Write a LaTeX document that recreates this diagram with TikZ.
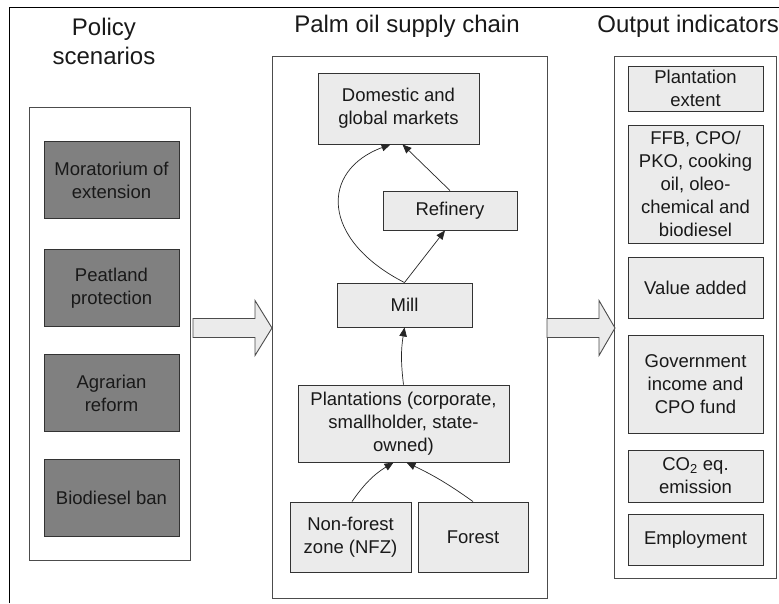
\documentclass[tikz,border=0pt]{standalone}
\usepackage{fontspec}
\setmainfont{Liberation Sans}
\usetikzlibrary{arrows.meta,calc}
\begin{document}
\begin{tikzpicture}[x=1pt,y=-1pt,
  every node/.style={inner sep=0pt, align=center, text=black!90},
  boxtext/.style={font=\fontsize{18.5}{23}\selectfont},
  darkbox/.style={boxtext, draw=black!80, line width=0.9pt, fill=black!50, minimum width=135pt, minimum height=77pt},
  lightbox/.style={boxtext, draw=black!80, line width=0.9pt, fill=black!8},
  container/.style={draw=black!70, line width=1pt},
  title/.style={font=\fontsize{24}{29.5}\selectfont},
  conn/.style={-{Triangle[length=9pt,width=7.5pt]}, line width=0.7pt, draw=black!85},
  blockarrow/.style={draw=black!70, line width=0.9pt, fill=black!8, line join=miter}
]
\useasboundingbox (0,0) rectangle (779,603);
\draw[line width=0.9pt] (9.5,603) -- (9.5,7) -- (779,7);

% titles
\node[title, anchor=north] (t1) at (104,17.8) {Policy\\scenarios};
\node[title, anchor=base] (t2) at (407,32) {Palm oil supply chain};
\node[title, anchor=base east] (t3) at (779,32) {Output indicators};

% containers
\node[container, minimum width=161pt, minimum height=453pt] (leftc) at (109.5,333.5) {};
\node[container, minimum width=275pt, minimum height=542pt] (midc) at (409.5,327) {};
\node[container, minimum width=162pt, minimum height=522pt] (rightc) at (695,317) {};

% policy scenarios
\node[darkbox] (p1) at (111.5,180) {Moratorium of\\extension};
\node[darkbox] (p2) at (111.5,288) {Peatland\\protection};
\node[darkbox] (p3) at (111.5,393) {Agrarian\\reform};
\node[darkbox] (p4) at (111.5,498) {Biodiesel ban};

% supply chain
\node[lightbox, minimum width=161pt, minimum height=71pt] (dom) at (398.5,108.5) {Domestic and\\global markets};
\node[lightbox, minimum width=134pt, minimum height=39pt] (ref) at (450,210.5) {Refinery};
\node[lightbox, minimum width=135pt, minimum height=44pt] (mill) at (404.5,305) {Mill};
\node[lightbox, minimum width=211pt, minimum height=77pt] (plant) at (403.5,423.5) {Plantations (corporate,\\smallholder, state-\\owned)};
\node[lightbox, minimum width=121pt, minimum height=70pt] (nfz) at (350.5,537) {Non-forest\\zone (NFZ)};
\node[lightbox, minimum width=110pt, minimum height=70pt] (forest) at (473,537) {Forest};

% output indicators
\node[lightbox, minimum width=135pt, minimum height=45pt] (o1) at (695.5,88.5) {Plantation\\extent};
\node[lightbox, minimum width=135pt, minimum height=118pt] (o2) at (695.5,184) {FFB, CPO/\\PKO, cooking\\oil, oleo-\\chemical and\\biodiesel};
\node[lightbox, minimum width=135pt, minimum height=61pt] (o3) at (695.5,287.5) {Value added};
\node[lightbox, minimum width=135pt, minimum height=98pt] (o4) at (695.5,384) {Government\\income and\\CPO fund};
\node[lightbox, minimum width=135pt, minimum height=52pt] (o5) at (695.5,476) {CO\textsubscript{2} eq.\\emission};
\node[lightbox, minimum width=135pt, minimum height=51pt] (o6) at (695.5,539.5) {Employment};

% block arrows
\draw[blockarrow] (193,318.5) -- (255,318.5) -- (255,300.5) -- (272,328) -- (255,355.5) -- (255,337.5) -- (193,337.5) -- cycle;
\draw[blockarrow] (547,318.5) -- (599,318.5) -- (599,300.5) -- (615,328) -- (599,355.5) -- (599,337.5) -- (547,337.5) -- cycle;

% connectors
\draw[conn] (mill.north) .. controls ($(mill.north)+(-84,-43)$) and ($(dom.south)+(-78.5,26)$) .. ($(dom.south)+(-8,0)$);
\draw[conn] (mill.north) -- ($(ref.south)+(-5,0)$);
\draw[conn] (ref.north) -- ($(dom.south)+(4,0)$);
\draw[conn] (plant.north) to[bend left=8] (mill.south);
\draw[conn] ($(nfz.north)+(1.5,0)$) to[bend left=12] ($(plant.south)+(-10,0)$);
\draw[conn] (forest.north) to[bend right=5] ($(plant.south)+(3,0)$);
\end{tikzpicture}
\end{document}
